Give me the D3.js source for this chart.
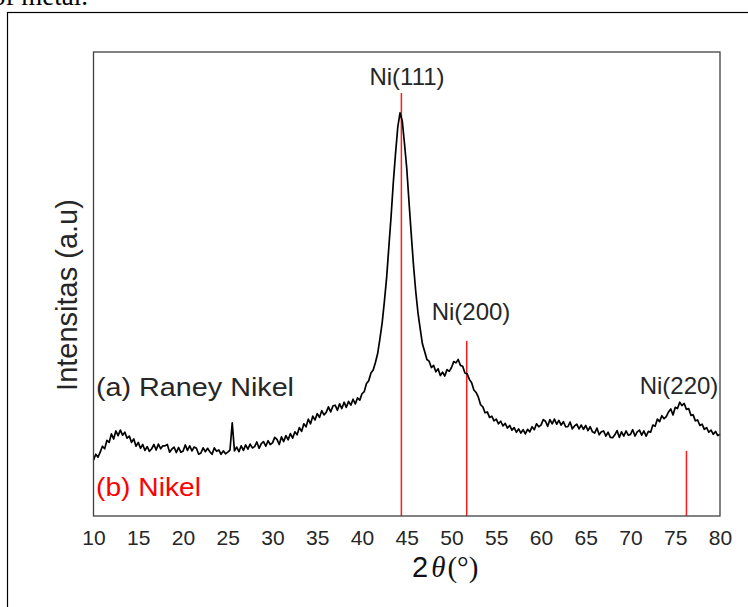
<!DOCTYPE html>
<html>
<head>
<meta charset="utf-8">
<script src="https://cdn.jsdelivr.net/npm/d3@7"></script>
<style>
  html, body { margin: 0; padding: 0; background: #fff; }
  svg { display: block; }
</style>
</head>
<body>
<script>
// XRD pattern of Raney nickel with the reference Ni peak positions.

var xTicks = [10, 15, 20, 25, 30, 35, 40, 45, 50, 55, 60, 65, 70, 75, 80]

// measured scan, one row per degree: [2theta, I(+0), I(+0.25), I(+0.5), I(+0.75)]
var scanRows = [
  [10, 13.2, 14.6, 13.9, 15.1],
  [11, 16.5, 15.9, 17.9, 17.4],
  [12, 19.4, 18.2, 20.1, 19.0],
  [13, 20.3, 19.1, 19.8, 18.4],
  [14, 18.9, 17.4, 18.2, 16.5],
  [15, 17.4, 16.0, 16.9, 15.5],
  [16, 16.4, 15.3, 15.9, 16.9],
  [17, 15.6, 17.0, 15.9, 16.6],
  [18, 16.6, 16.9, 15.1, 15.8],
  [19, 16.3, 15.0, 16.2, 15.1],
  [20, 15.3, 16.8, 15.5, 16.6],
  [21, 15.4, 16.3, 16.0, 14.6],
  [22, 14.9, 16.1, 15.2, 16.0],
  [23, 15.2, 14.6, 16.1, 15.3],
  [24, 15.6, 14.6, 15.4, 14.7],
  [25, 15.1, 15.6, 22.0, 15.4],
  [26, 16.3, 15.2, 16.6, 15.5],
  [27, 16.8, 15.8, 17.0, 16.1],
  [28, 16.4, 17.5, 16.0, 17.1],
  [29, 17.6, 16.5, 17.8, 16.9],
  [30, 17.3, 18.6, 18.1, 16.9],
  [31, 18.7, 17.6, 19.0, 18.0],
  [32, 19.5, 18.4, 19.9, 19.2],
  [33, 20.9, 20.0, 21.8, 21.1],
  [34, 22.9, 21.8, 23.6, 22.7],
  [35, 24.2, 23.3, 24.9, 23.9],
  [36, 24.5, 25.8, 24.6, 26.0],
  [37, 26.2, 25.0, 26.5, 25.4],
  [38, 26.9, 25.7, 27.1, 26.2],
  [39, 27.6, 26.5, 27.9, 27.4],
  [40, 28.9, 29.4, 31.3, 32.0],
  [41, 33.8, 34.5, 36.3, 38.4],
  [42, 41.9, 45.6, 50.7, 56.3],
  [43, 63.6, 70.8, 78.9, 85.8],
  [44, 92.0, 95.3, 93.4, 88.0],
  [45, 82.2, 74.3, 66.7, 59.4],
  [46, 53.2, 48.1, 44.3, 40.7],
  [47, 38.9, 37.0, 36.6, 35.1],
  [48, 35.6, 34.1, 34.8, 33.2],
  [49, 34.0, 33.1, 34.6, 34.2],
  [50, 35.1, 36.5, 36.2, 37.0],
  [51, 35.6, 35.4, 33.8, 33.6],
  [52, 32.3, 31.5, 29.8, 29.2],
  [53, 28.1, 26.3, 25.8, 24.4],
  [54, 24.6, 23.3, 23.6, 22.5],
  [55, 22.9, 21.8, 22.4, 21.3],
  [56, 21.9, 20.8, 21.4, 20.3],
  [57, 20.9, 19.8, 20.6, 19.6],
  [58, 20.4, 19.4, 20.5, 19.9],
  [59, 21.1, 20.4, 21.8, 21.1],
  [60, 21.5, 22.8, 22.4, 21.2],
  [61, 22.8, 21.8, 22.9, 21.7],
  [62, 22.6, 21.5, 22.3, 21.1],
  [63, 21.1, 22.2, 20.6, 21.3],
  [64, 21.7, 20.6, 21.5, 20.5],
  [65, 21.4, 20.2, 21.1, 19.9],
  [66, 19.6, 20.8, 19.2, 19.9],
  [67, 20.1, 18.9, 19.8, 18.6],
  [68, 18.5, 19.2, 20.2, 18.6],
  [69, 19.9, 18.9, 20.1, 19.1],
  [70, 19.3, 20.4, 18.9, 19.9],
  [71, 20.3, 19.1, 20.1, 18.9],
  [72, 20.0, 19.8, 21.5, 21.2],
  [73, 22.9, 22.3, 23.7, 23.0],
  [74, 23.5, 24.6, 25.3, 23.9],
  [75, 25.7, 25.4, 26.9, 26.1],
  [76, 26.6, 25.2, 25.4, 23.8],
  [77, 23.9, 22.5, 22.7, 21.4],
  [78, 21.7, 20.5, 20.9, 19.8],
  [79, 20.3, 19.3, 20.0, 19.0],
  [80, 19.3]
]

// reference nickel reflections (JCPDS), relative intensity
var refAngles = [44.4, 51.7, 76.25]
  , refIntensity = [100, 41.4, 15.4]
  , refLabels = ['Ni(111)', 'Ni(200)', 'Ni(220)']

var sampleLabels = ['(a) Raney Nikel', '(b) Nikel']

var W = 748, H = 607
  , plot = { left: 93.5, right: 720, top: 52, bottom: 516 }
  , sans = '"Liberation Sans", Arial, sans-serif'
  , serif = '"Liberation Serif", "Times New Roman", serif'
  , textColor = '#262626'

var scan = []
scanRows.forEach(function(row) {
  for (var i = 1; i < row.length; i++) scan.push([row[0] + (i - 1) * 0.25, row[i]])
})

var svg = d3.select('body').append('svg').attr('width', W).attr('height', H)

// cut off caption line from the page above and the figure border
svg.append('text')
  .attr('x', 88).attr('y', 5)
  .attr('text-anchor', 'end')
  .style('font-family', serif).style('font-size', '27px')
  .text('of metal.')

svg.append('rect')
  .attr('x', 7.5).attr('y', 12.5).attr('width', 760).attr('height', 620)
  .attr('fill', 'none').attr('stroke', '#000').attr('stroke-width', 1.2)

var x = d3.scaleLinear().domain([10, 80]).range([plot.left, plot.right])
  , y = d3.scaleLinear().domain([0, 100]).range([plot.bottom, 93])

// reference sticks
svg.append('g').selectAll('line').data(refAngles).enter().append('line')
  .attr('x1', function(d) { return x(d) })
  .attr('x2', function(d) { return x(d) })
  .attr('y1', y(0))
  .attr('y2', function(d, i) { return y(refIntensity[i]) })
  .attr('stroke', '#ff1a1a').attr('stroke-width', 1.5)

// measured pattern
var line = d3.line().x(function(d) { return x(d[0]) }).y(function(d) { return y(d[1]) })
svg.append('path').datum(scan)
  .attr('d', line)
  .attr('fill', 'none').attr('stroke', '#000').attr('stroke-width', 1.7)
  .attr('stroke-linejoin', 'round')

// frame
svg.append('rect')
  .attr('x', plot.left).attr('y', plot.top)
  .attr('width', plot.right - plot.left).attr('height', plot.bottom - plot.top)
  .attr('fill', 'none').attr('stroke', '#404040').attr('stroke-width', 1.3)

// x axis, labels only
var xAxis = svg.append('g').attr('transform', 'translate(0,' + plot.bottom + ')')
  .call(d3.axisBottom(x).tickValues(xTicks).tickSize(0).tickPadding(14).tickFormat(d3.format('d')))
xAxis.select('.domain').remove()
xAxis.selectAll('text')
  .style('font-family', sans).style('font-size', '21px').attr('fill', textColor)

var xTitle = svg.append('text')
  .attr('x', 412).attr('y', 577)
  .attr('fill', '#111')
  .style('font-size', '29px')
xTitle.append('tspan').style('font-family', sans).text('2')
xTitle.append('tspan').attr('dx', 3).style('font-family', serif).style('font-style', 'italic').text('θ')
xTitle.append('tspan').attr('dx', 2).style('font-family', serif).text('(°)')

svg.append('text')
  .attr('transform', 'translate(77,295) rotate(-90)')
  .attr('text-anchor', 'middle')
  .attr('fill', textColor)
  .style('font-family', sans).style('font-size', '29px')
  .text('Intensitas (a.u)')

// peak labels: offsets from the stick top
var peakLabelPos = [[407, 85], [471, 320], [679, 394]]
svg.append('g').selectAll('text').data(refLabels).enter().append('text')
  .attr('x', function(d, i) { return peakLabelPos[i][0] })
  .attr('y', function(d, i) { return peakLabelPos[i][1] })
  .attr('text-anchor', 'middle')
  .attr('fill', textColor)
  .style('font-family', sans).style('font-size', '24px')
  .text(function(d) { return d })

var sampleStyle = [{ y: 396, color: textColor, len: 198 }, { y: 496, color: '#ff0000', len: 105 }]
svg.append('g').selectAll('text').data(sampleLabels).enter().append('text')
  .attr('x', 96)
  .attr('y', function(d, i) { return sampleStyle[i].y })
  .attr('fill', function(d, i) { return sampleStyle[i].color })
  .attr('textLength', function(d, i) { return sampleStyle[i].len })
  .attr('lengthAdjust', 'spacingAndGlyphs')
  .style('font-family', sans).style('font-size', '26px')
  .text(function(d) { return d })
</script>
</body>
</html>
